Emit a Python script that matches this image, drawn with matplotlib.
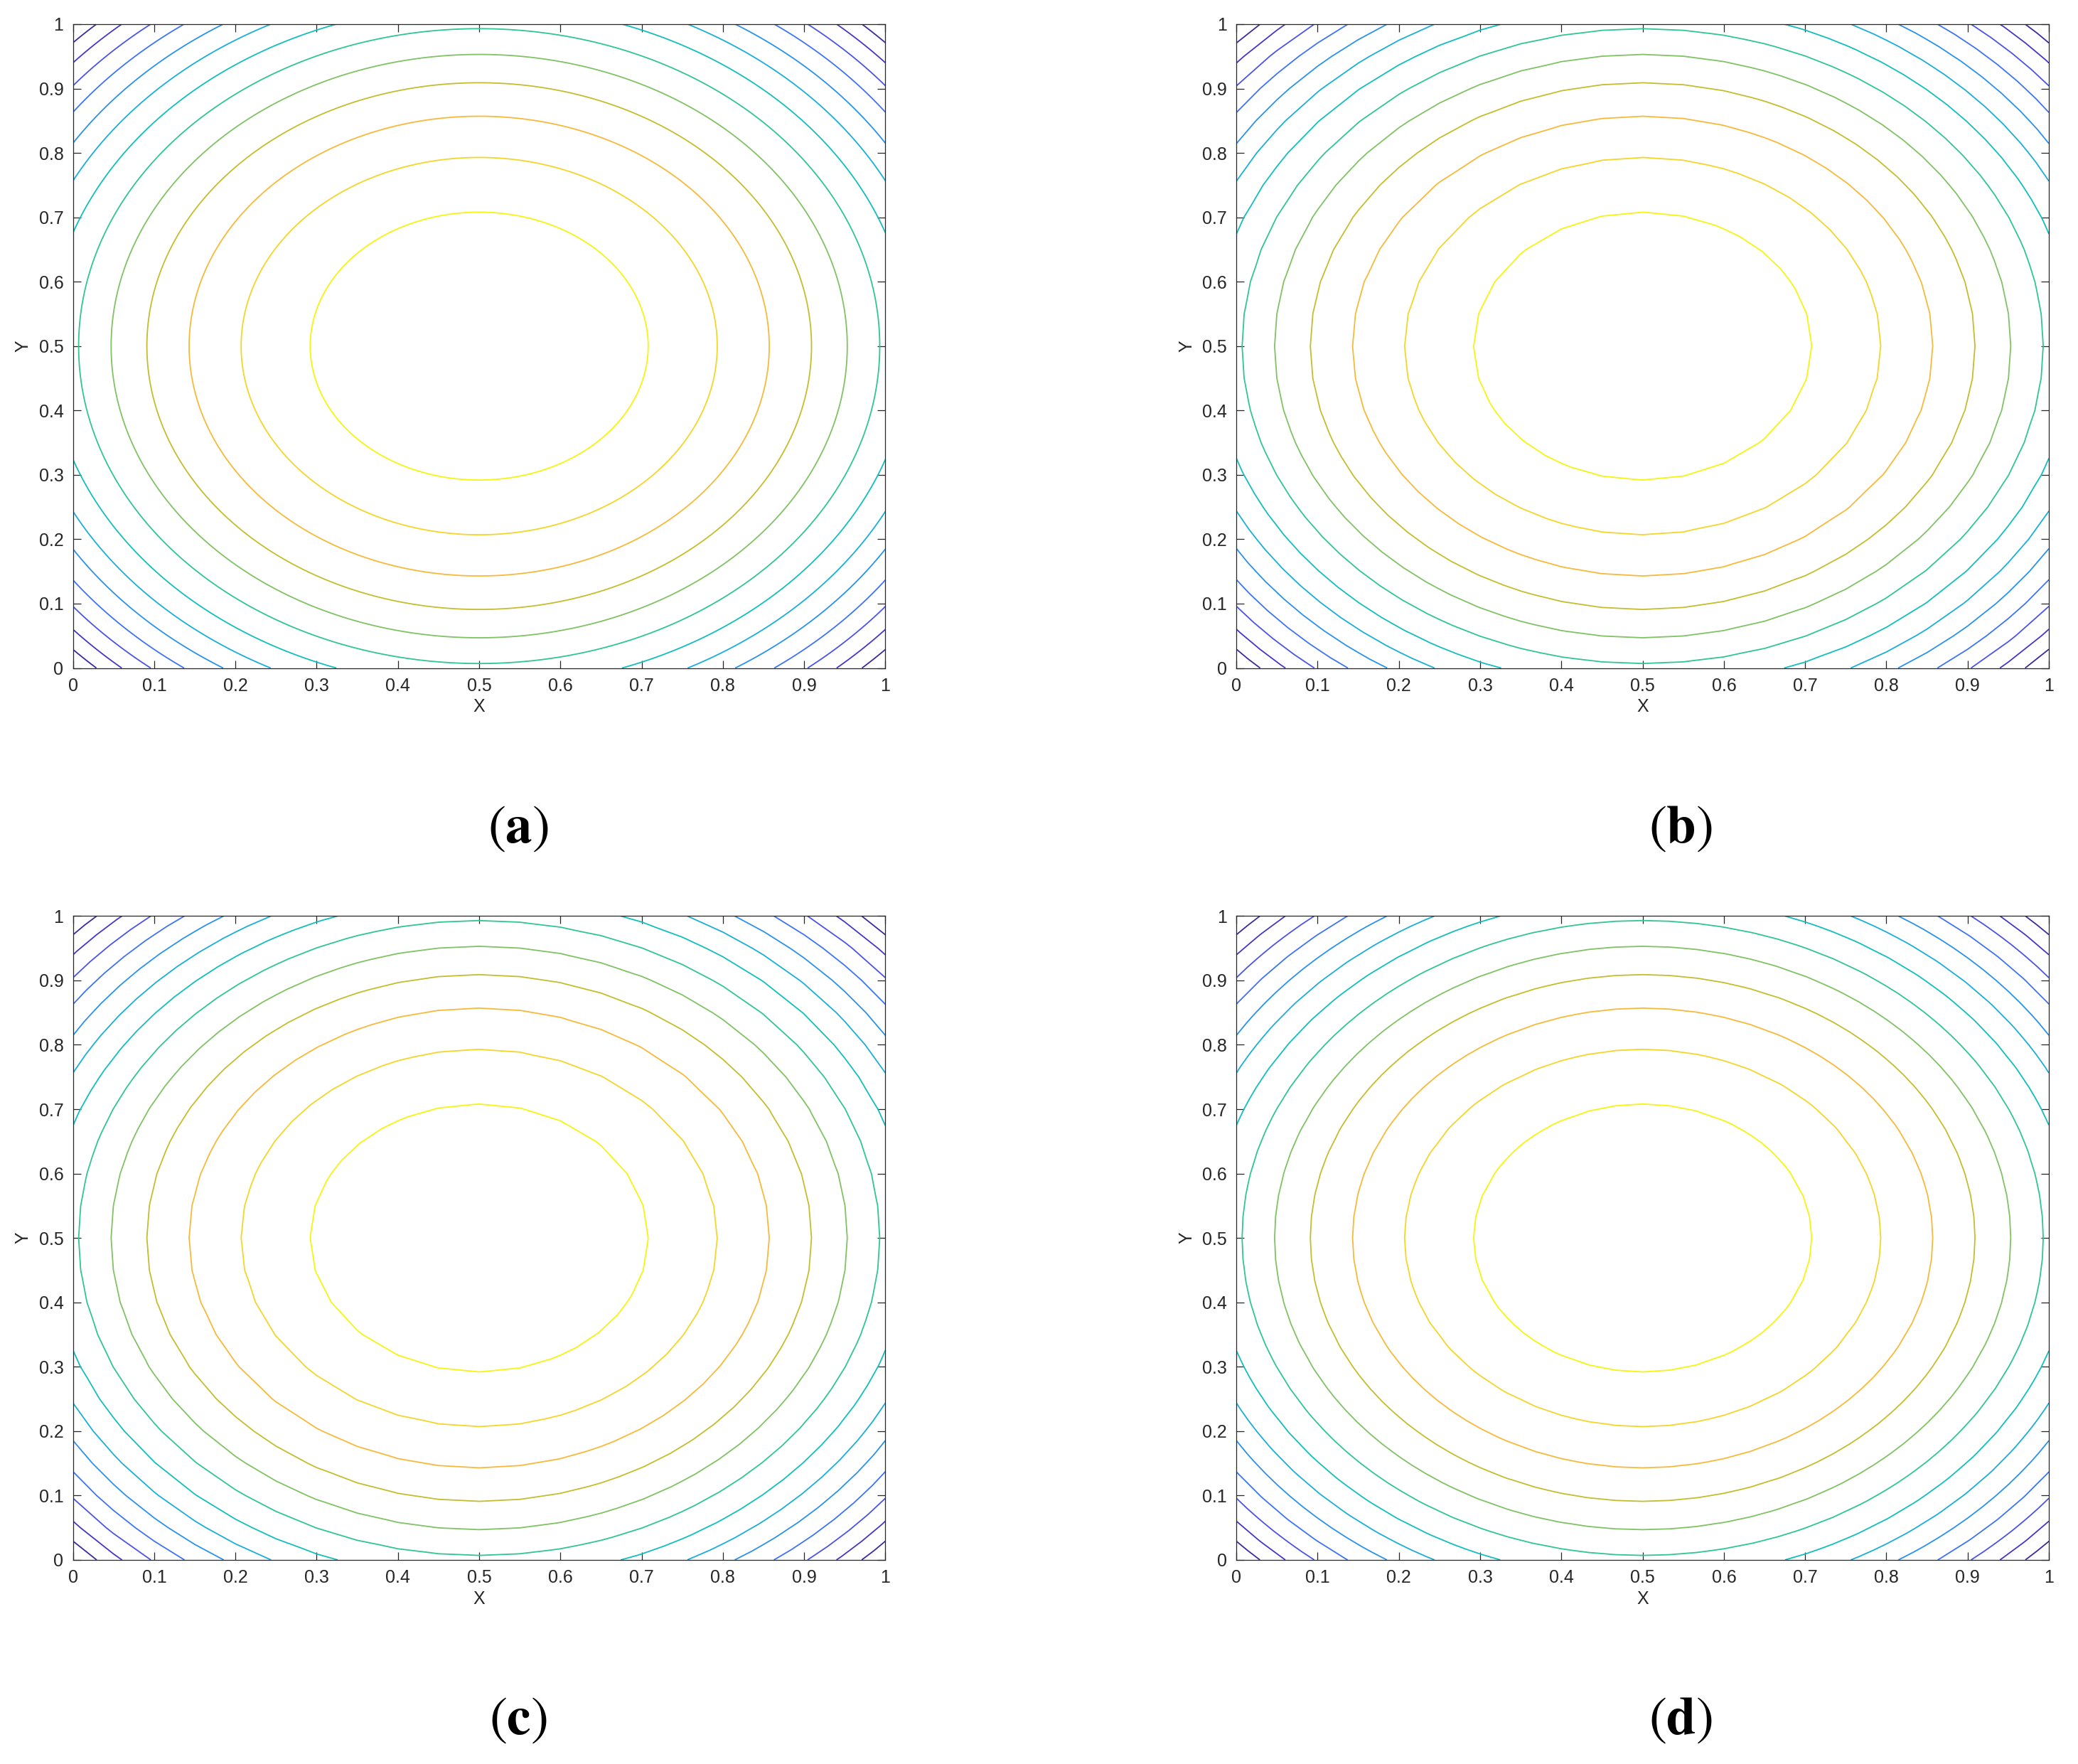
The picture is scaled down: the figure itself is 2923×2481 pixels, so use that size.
import numpy as np
import matplotlib.pyplot as plt
import matplotlib.tri as mtri

# contour levels: distance of each contour from the centre (0.5, 0.5)
LEVEL_RADII = [0.208, 0.293, 0.357, 0.409, 0.453, 0.493, 0.530,
               0.562, 0.591, 0.618, 0.643, 0.666, 0.687]
# colour of each level, innermost (yellow) to outermost (dark blue)
LEVEL_COLORS = ['#f4f511', '#f4d52a', '#f8b93a', '#c4bd2e', '#80c264', '#30c690',
                '#12bfbc', '#1aaedb', '#2a92ec', '#3d74f6', '#4b54e6', '#4537c8', '#3b2c9c']

TICKS = [0, 0.1, 0.2, 0.3, 0.4, 0.5, 0.6, 0.7, 0.8, 0.9, 1]
TICK_LABELS = ['0', '0.1', '0.2', '0.3', '0.4', '0.5', '0.6', '0.7', '0.8', '0.9', '1']

PANEL_NAMES = ['a', 'b', 'c', 'd']
# nodes per side of the mesh each panel was computed on (0 = smooth reference)
MESH_NODES = [0, 21, 21, 31]
MESH_DIAG = ['', '/', '\\', 'x']

CENTRE = (0.5, 0.5)

plt.rcParams['font.family'] = ['Liberation Sans', 'DejaVu Sans']
plt.rcParams['mathtext.fontset'] = 'stix'


def mesh_triangulation(n, diag):
    s = np.linspace(0, 1, n)
    X, Y = np.meshgrid(s, s)
    tris = []
    for j in range(n - 1):
        for i in range(n - 1):
            p00 = j * n + i
            p10 = p00 + 1
            p01 = p00 + n
            p11 = p01 + 1
            d = diag
            if diag == 'x':
                d = '/' if (i + j) % 2 == 0 else '\\'
            if d == '/':
                tris += [[p00, p10, p11], [p00, p11, p01]]
            else:
                tris += [[p00, p10, p01], [p10, p11, p01]]
    return mtri.Triangulation(X.ravel(), Y.ravel(), np.array(tris))


fig = plt.figure(figsize=(29.23, 24.81), dpi=100)

ax_w, ax_h = 0.391, 0.365
lefts = [0.0351, 0.595, 0.0351, 0.595]
bottoms = [0.6213, 0.6213, 0.1157, 0.1157]
label_x = [0.2494, 0.8087, 0.2494, 0.8087]
label_y = [0.5302, 0.5302, 0.0247, 0.0247]

for k, name in enumerate(PANEL_NAMES):
    ax = fig.add_axes([lefts[k], bottoms[k], ax_w, ax_h])
    n = MESH_NODES[k]
    if n == 0:
        s = np.linspace(0, 1, 401)
        X, Y = np.meshgrid(s, s)
        R = np.hypot(X - CENTRE[0], Y - CENTRE[1])
        ax.contour(X, Y, R, levels=LEVEL_RADII, colors=LEVEL_COLORS, linewidths=1.3)
    else:
        tri = mesh_triangulation(n, MESH_DIAG[k])
        R = np.hypot(tri.x - CENTRE[0], tri.y - CENTRE[1])
        ax.tricontour(tri, R, levels=LEVEL_RADII, colors=LEVEL_COLORS, linewidths=1.3)

    ax.set_xlim(0, 1)
    ax.set_ylim(0, 1)
    ax.set_xticks(TICKS)
    ax.set_yticks(TICKS)
    ax.set_xticklabels(TICK_LABELS)
    ax.set_yticklabels(TICK_LABELS)
    ax.tick_params(direction='in', length=8, width=0.9, top=True, right=True,
                   labelsize=18, pad=9.5, colors='#262626')
    for sp in ax.spines.values():
        sp.set_color('#262626')
        sp.set_linewidth(0.9)
    ax.set_xlabel('X', fontsize=18, color='#262626', labelpad=4)
    ax.set_ylabel('Y', fontsize=18, color='#262626', labelpad=7)

    fig.text(label_x[k], label_y[k], r'$(\mathbf{' + name + '})$', fontsize=54,
             ha='center', va='center')

fig.savefig('out.png', dpi=100, facecolor='white')
